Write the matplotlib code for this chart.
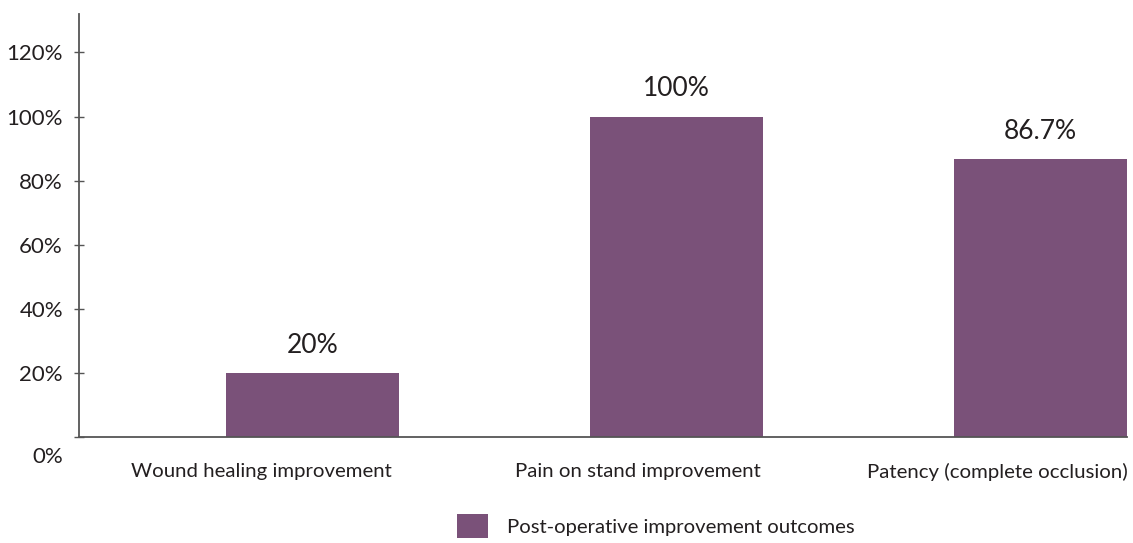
import numpy as np
import matplotlib
matplotlib.use("Agg")
import matplotlib.pyplot as plt
from matplotlib.transforms import ScaledTranslation

plt.rcParams['font.family'] = ['Lato', 'DejaVu Sans']

# data
categories = ['Wound healing improvement', 'Pain on stand improvement',
              'Patency (complete occlusion)']
values = [20, 100, 86.7]
value_labels = ['20%', '100%', '86.7%']
y_ticks = [0, 20, 40, 60, 80, 100, 120]
series_name = 'Post-operative improvement outcomes'

bar_color = '#7a5179'
text_color = '#231f20'
axis_color = '#555555'

fig = plt.figure(figsize=(11.33, 5.43), dpi=100)
ax = fig.add_axes([0.0697, 0.1952, 0.925, 0.779])

x = np.arange(len(categories))
bars = ax.bar(x, values, width=0.475, color=bar_color, label=series_name, zorder=2)

ax.bar_label(bars, labels=value_labels, padding=11, fontsize=19, color=text_color)

ax.set_xlim(-0.6415, 2.2376)
ax.set_ylim(0, 132)

# category labels sit a little left of the bar centres in the original
label_pos = x + np.array([-0.1415, -0.107, -0.1195])
ax.set_xticks(label_pos)
ax.set_xticklabels(categories, fontsize=14.7, color=text_color)
ax.tick_params(axis='x', length=0, pad=19)

ax.set_yticks(y_ticks)
ax.set_yticklabels([f'{t}%' for t in y_ticks], fontsize=16, color=text_color)
ax.tick_params(axis='y', direction='inout', length=7, width=1, color=axis_color, pad=8)

# the 0% label is drawn below the baseline in the original
zero_lbl = ax.get_yticklabels()[0]
zero_lbl.set_transform(zero_lbl.get_transform()
                       + ScaledTranslation(0, -18 / 100, fig.dpi_scale_trans))

for s in ['top', 'right']:
    ax.spines[s].set_visible(False)
for s in ['left', 'bottom']:
    ax.spines[s].set_color(axis_color)
    ax.spines[s].set_linewidth(1.3)

fig.legend(loc='upper left', bbox_to_anchor=(457 / 1133, 1 - 514 / 543),
           frameon=False, fontsize=14.6, handlelength=1.53, handleheight=1.45,
           handletextpad=0.95, borderpad=0, borderaxespad=0, labelcolor=text_color)

fig.savefig('out.png', dpi=100)
